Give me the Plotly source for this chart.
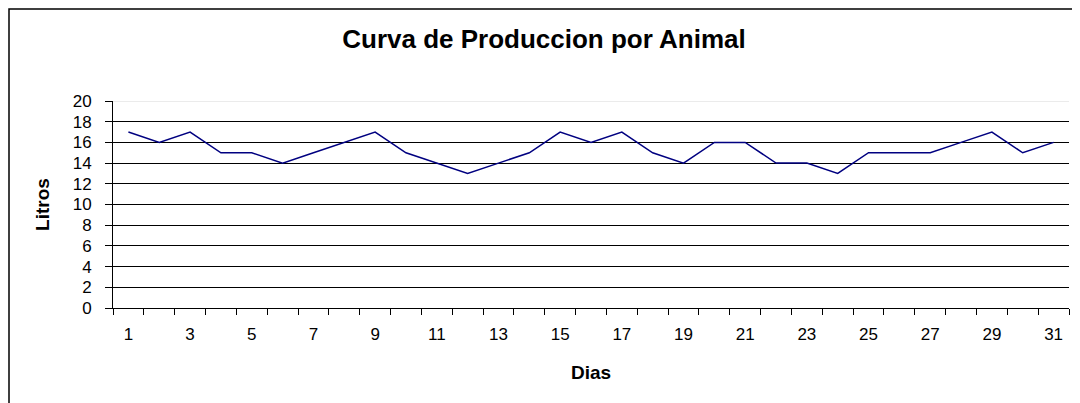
import plotly.graph_objects as go

dias = list(range(1, 32))
litros = [17, 16, 17, 15, 15, 14, 15, 16, 17, 15, 14, 13, 14, 15, 17, 16, 17,
          15, 14, 16, 16, 14, 14, 13, 15, 15, 15, 16, 17, 15, 16]
x_labels = [str(d) for d in range(1, 32, 2)]
y_ticks = list(range(0, 21, 2))

FONT = "Liberation Sans, Arial, sans-serif"
W, H = 1072, 395  # page body adds an 8px offset

fig = go.Figure()
# invisible trace on secondary y axis for inner gridlines
fig.add_trace(go.Scatter(x=dias, y=litros, mode="lines", yaxis="y2",
                         line=dict(color="rgba(0,0,0,0)"), hoverinfo="skip",
                         showlegend=False))
fig.add_trace(go.Scatter(x=dias, y=litros, mode="lines",
                         line=dict(color="#000080", width=1.5),
                         hoverinfo="x+y", showlegend=False))

fig.update_layout(
    width=W, height=H,
    margin=dict(l=105, r=11, t=93, b=95, autoexpand=False),
    paper_bgcolor="white", plot_bgcolor="white",
    title=dict(text="<b>Curva de Produccion por Animal</b>", x=0.5, xanchor="center",
               y=1 - 31 / H, yanchor="middle",
               font=dict(family=FONT, size=26, color="black")),
    font=dict(family=FONT, size=17, color="black"),
    xaxis=dict(range=[0.5, 31.5], tickvals=[int(v) for v in x_labels], ticktext=x_labels,
               ticks="", showgrid=False, zeroline=False, automargin=False,
               showline=True, linecolor="black", linewidth=1,
               ticklabelstandoff=11,
               minor=dict(tickvals=[d - 0.5 for d in dias] + [31.5], ticks="outside",
                          ticklen=6, tickcolor="black", showgrid=False),
               title=dict(text="<b>Dias</b>", font=dict(family=FONT, size=19), standoff=22),
               tickfont=dict(family=FONT, size=17)),
    yaxis=dict(range=[0, 20], tickvals=y_ticks, ticks="outside", ticklen=7,
               tickcolor="black", showgrid=False, zeroline=False, automargin=False,
               showline=True, linecolor="black", linewidth=1,
               ticklabelstandoff=10,
               title=dict(text="<b>Litros</b>", font=dict(family=FONT, size=19), standoff=18),
               tickfont=dict(family=FONT, size=17)),
    yaxis2=dict(range=[0, 20], overlaying="y", tickvals=y_ticks[1:-1], showticklabels=False,
                showgrid=True, gridcolor="black", gridwidth=1, zeroline=False, ticks="",
                automargin=False),
    shapes=[
        dict(type="line", xref="paper", yref="y", x0=0, x1=1, y0=20, y1=20,
             line=dict(color="#d8d8d8", width=1), layer="below"),
        dict(type="rect", xref="paper", yref="paper",
             x0=-104 / 956, x1=1 + 8 / 956, y0=-1, y1=1 + 92 / 207,
             line=dict(color="black", width=1.5), layer="below"),
    ],
)

fig.write_html("out.html")
